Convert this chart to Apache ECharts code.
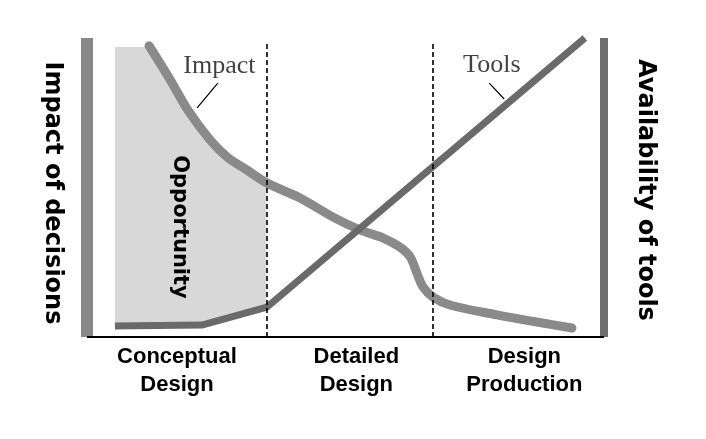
<!DOCTYPE html>
<html>
<head>
<meta charset="utf-8">
<script src="https://cdn.jsdelivr.net/npm/echarts@6/dist/echarts.min.js"></script>
<style>
html,body{margin:0;padding:0;background:#fff;}
#c{width:706px;height:439px;}
</style>
</head>
<body>
<div id="c"></div>
<script>
// ---- data (abstract units: x = design progress 0..100, y = level 0..100) ----
const phaseLabels = ['Conceptual\nDesign', 'Detailed\nDesign', 'Design\nProduction'];
const phaseLabelPos = [17.4, 52.1, 84.6];
const phaseBounds = [34.7, 66.8];
const dashTop = 98.3;

const impactX = [12.0, 16.1, 19.5, 23.8, 27.1, 30.9, 34.8, 41.2, 47.6, 52.8, 57.3, 60.5, 62.5, 63.8, 65.0, 66.9, 70.2, 79.3, 87.0, 93.8];
const impactY = [97.4, 86.0, 75.9, 65.9, 60.2, 55.9, 51.5, 46.5, 40.1, 35.8, 33.1, 30.1, 26.8, 21.4, 16.7, 13.4, 10.7, 7.4, 5.0, 3.0];

const toolsX = [5.4, 22.2, 34.8, 96.3];
const toolsY = [3.7, 4.0, 10.0, 100];

const oppTopX = [5.4, 11.8, 12.2, 16.1, 19.5, 23.8, 27.1, 30.9, 34.7];
const oppTopY = [97.0, 97.0, 97.0, 86.0, 75.9, 65.9, 60.2, 55.9, 51.5];
const oppBottomX = [34.7, 22.2, 5.4];
const oppBottomY = [10.0, 4.0, 3.7];

const impactLabel = {text: 'Impact', x: 25.6, y: 90.6};
const impactLeaderX = [25.3, 21.3];
const impactLeaderY = [84.9, 76.6];
const toolsLabel = {text: 'Tools', x: 78.3, y: 91.0};
const toolsLeaderX = [77.8, 80.7];
const toolsLeaderY = [84.9, 79.6];

const leftAxisName = 'Impact of decisions';
const rightAxisName = 'Availability of tools';
const regionName = 'Opportunity';

const zip = (xs, ys) => xs.map((v, i) => [v, ys[i]]);

const chart = echarts.init(document.getElementById('c'), null, {renderer: 'canvas'});

const oppPoly = zip(oppTopX, oppTopY).concat(zip(oppBottomX, oppBottomY));

const option = {
  backgroundColor: '#ffffff',
  animation: false,
  grid: {left: 87, right: 102, top: 38, bottom: 102},
  xAxis: {
    type: 'value', min: 0, max: 100,
    axisLine: {show: true, onZero: false, lineStyle: {color: '#000', width: 2, cap: 'butt'}},
    axisTick: {show: false},
    splitLine: {show: false},
    axisLabel: {
      show: true,
      customValues: phaseLabelPos,
      formatter: function (v) {
        let best = 0, d = 1e9;
        phaseLabelPos.forEach((p, i) => { if (Math.abs(p - v) < d) { d = Math.abs(p - v); best = i; } });
        return phaseLabels[best];
      },
      margin: 6,
      fontFamily: 'Liberation Sans', fontWeight: 'bold', fontSize: 22, lineHeight: 28, color: '#000'
    }
  },
  yAxis: [
    {type: 'value', min: 0, max: 100, position: 'left',
     axisLine: {show: true, lineStyle: {color: '#888888', width: 12, cap: 'butt'}},
     axisTick: {show: false}, axisLabel: {show: false}, splitLine: {show: false}},
    {type: 'value', min: 0, max: 100, position: 'right',
     axisLine: {show: true, lineStyle: {color: '#6e6e6e', width: 8, cap: 'butt'}},
     axisTick: {show: false}, axisLabel: {show: false}, splitLine: {show: false}}
  ],
  series: [
    {
      type: 'custom', z: 1,
      data: [0],
      renderItem: function (params, api) {
        const pts = oppPoly.map(p => api.coord(p));
        return {type: 'polygon', shape: {points: pts}, style: {fill: '#d8d8d8'}, silent: true};
      }
    },
    {
      type: 'line', z: 3, data: zip(impactX, impactY), smooth: 0.35, symbol: 'none',
      lineStyle: {color: '#8a8a8a', width: 9, cap: 'round'}
    },
    {
      type: 'line', z: 4, data: zip(toolsX, toolsY), smooth: false, symbol: 'none',
      lineStyle: {color: '#6a6a6a', width: 7, cap: 'butt'}
    },
    {
      type: 'line', z: 5, data: zip(impactLeaderX, impactLeaderY), symbol: 'none',
      lineStyle: {color: '#000', width: 1.2}
    },
    {
      type: 'line', z: 5, data: zip(toolsLeaderX, toolsLeaderY), symbol: 'none',
      lineStyle: {color: '#000', width: 1.2}
    },
    {
      type: 'scatter', z: 6, symbolSize: 0,
      data: [[impactLabel.x, impactLabel.y, impactLabel.text], [toolsLabel.x, toolsLabel.y, toolsLabel.text]],
      label: {show: true, position: 'inside', formatter: p => p.data[2],
              fontFamily: 'Liberation Serif', fontSize: 26, color: '#111'}
    },
    {
      type: 'line', z: 7, data: [], symbol: 'none',
      markLine: {
        silent: true, symbol: ['none', 'none'], label: {show: false},
        lineStyle: {color: '#000', type: [5, 3], width: 1.6},
        data: phaseBounds.map(b => [{coord: [b, 0]}, {coord: [b, dashTop]}])
      }
    }
  ],
  graphic: [
    {type: 'text', x: 52, y: 193, rotation: -Math.PI / 2, z: 10,
     style: {text: leftAxisName, fontFamily: 'DejaVu Sans', fontWeight: 'bold', fontSize: 24, fill: '#000', align: 'center', verticalAlign: 'middle'}},
    {type: 'text', x: 645, y: 190, rotation: -Math.PI / 2, z: 10,
     style: {text: rightAxisName, fontFamily: 'DejaVu Sans', fontWeight: 'bold', fontSize: 24, fill: '#000', align: 'center', verticalAlign: 'middle'}},
    {type: 'text', x: 179, y: 227, rotation: -Math.PI / 2, z: 10,
     style: {text: regionName, fontFamily: 'DejaVu Sans', fontWeight: 'bold', fontSize: 21, fill: '#000', align: 'center', verticalAlign: 'middle'}}
  ]
};
chart.setOption(option);
</script>
</body>
</html>
